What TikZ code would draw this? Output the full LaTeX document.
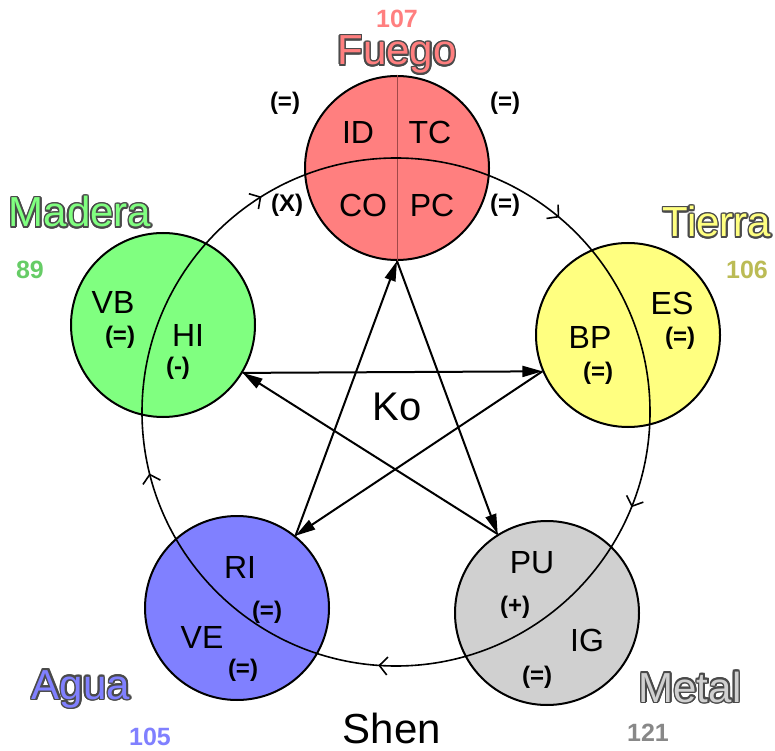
\documentclass[tikz,border=0pt]{standalone}
\usepackage{fontspec}
\setmainfont{Liberation Sans}
\usepackage{contour}
\contourlength{0.75pt}
\usetikzlibrary{arrows.meta,decorations.markings}

\definecolor{fuegocol}{HTML}{FF7F7F}
\definecolor{maderacol}{HTML}{80FF80}
\definecolor{tierracol}{HTML}{FFFF80}
\definecolor{aguacol}{HTML}{8080FF}
\definecolor{metalcol}{HTML}{D0D0D0}
\definecolor{maderanum}{HTML}{66CC66}
\definecolor{tierranum}{HTML}{BBBB55}
\definecolor{metalnum}{HTML}{888888}
\definecolor{outlinecol}{HTML}{4A4A4A}
\definecolor{divcol}{HTML}{A04848}

\tikzset{
    elem/.style={circle, draw=black, line width=1pt, minimum size=92pt, inner sep=0pt},
    lbl/.style={font=\fontsize{16}{16}\selectfont},
    sign/.style={font=\fontsize{12}{12}\selectfont\bfseries},
    title/.style={anchor=base, inner sep=0pt, font=\fontsize{21}{21}\selectfont},
    num/.style={inner sep=0pt, font=\fontsize{12.5}{12.5}\selectfont\bfseries},
    ko/.style={line width=1pt, -{Triangle[length=10pt,width=5.5pt]}},
    shenarrow/.style={postaction={decorate}, decoration={markings,
        mark=between positions 0.1389 and 0.95 step 0.2 with {\arrowreversed[line width=0.8pt]{Straight Barb[length=4pt,width=9pt]}}}}
}

\begin{document}
\begin{tikzpicture}[x=0.5pt,y=0.5pt]
    \useasboundingbox (0,0) rectangle (775,750);

    % The five elements
    \node[elem, fill=fuegocol] (fuego) at (397,582) {};
    \node[elem, fill=maderacol] (madera) at (163,425) {};
    \node[elem, fill=tierracol] (tierra) at (628,415) {};
    \node[elem, fill=aguacol] (agua) at (237,142) {};
    \node[elem, fill=metalcol] (metal) at (547,137) {};
    \draw[divcol, line width=0.5pt] (fuego.north) -- (fuego.south);

    % Shen cycle
    \coordinate (shenc) at (396,338);
    \draw[line width=0.8pt, shenarrow] (shenc) circle [radius=254];

    % Ko cycle
    \draw[ko] (fuego.-90) -- (metal.122);
    \draw[ko] (metal.122) -- (madera.-31);
    \draw[ko] (madera.-31) -- (tierra.203);
    \draw[ko] (tierra.203) -- (agua.51.5);
    \draw[ko] (agua.51.5) -- (fuego.-90);

    % Titles and numbers
    \node[title] (fuegot) at (397,685) {\contour{outlinecol}{\textcolor{fuegocol}{Fuego}}};
    \node[title] (maderat) at (80,523) {\contour{outlinecol}{\textcolor{maderacol}{Madera}}};
    \node[title] (tierrat) at (717,513) {\contour{outlinecol}{\textcolor{tierracol}{Tierra}}};
    \node[title] (aguat) at (81,51) {\contour{outlinecol}{\textcolor{aguacol}{Agua}}};
    \node[title] (metalt) at (690,48) {\contour{outlinecol}{\textcolor{metalcol}{Metal}}};
    \node[num, text=fuegocol] (fuegon) at (397,731) {107};
    \node[num, text=maderanum] (maderan) at (30,480) {89};
    \node[num, text=tierranum] (tierran) at (747,480) {106};
    \node[num, text=aguacol] (aguan) at (150,13) {105};
    \node[num, text=metalnum] (metaln) at (648,17) {121};

    % Fuego
    \node[lbl] (fuego-id) at (358,618) {ID};
    \node[lbl] (fuego-tc) at (430,618) {TC};
    \node[lbl] (fuego-co) at (363,545) {CO};
    \node[lbl] (fuego-pc) at (432,545) {PC};
    \node[sign] (fuego-s1) at (285,647) {(=)};
    \node[sign] (fuego-s2) at (505,647) {(=)};
    \node[sign] (fuego-s3) at (287,545) {(X)};
    \node[sign] (fuego-s4) at (505,545) {(=)};

    % Madera
    \node[lbl] (madera-vb) at (113,448) {VB};
    \node[sign] (madera-s1) at (120,413) {(=)};
    \node[lbl] (madera-hi) at (188,415) {HI};
    \node[sign] (madera-s2) at (178,382) {(-)};

    % Tierra
    \node[lbl] (tierra-es) at (672,447) {ES};
    \node[sign] (tierra-s1) at (680,412) {(=)};
    \node[lbl] (tierra-bp) at (590,413) {BP};
    \node[sign] (tierra-s2) at (598,377) {(=)};

    % Agua
    \node[lbl] (agua-ri) at (240,183) {RI};
    \node[sign] (agua-s1) at (267,138) {(=)};
    \node[lbl] (agua-ve) at (202,113) {VE};
    \node[sign] (agua-s2) at (243,80) {(=)};

    % Metal
    \node[lbl] (metal-pu) at (532,187) {PU};
    \node[sign] (metal-s1) at (515,143) {(+)};
    \node[lbl] (metal-ig) at (587,110) {IG};
    \node[sign] (metal-s2) at (537,73) {(=)};

    % Cycle names
    \node[font=\fontsize{20}{20}\selectfont] (ko) at (397,343) {Ko};
    \node[title] (shen) at (392,7) {Shen};
\end{tikzpicture}
\end{document}
